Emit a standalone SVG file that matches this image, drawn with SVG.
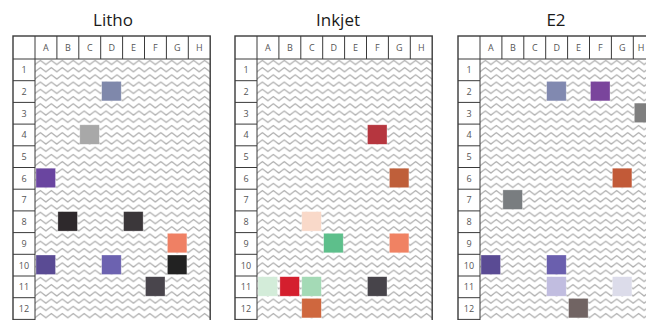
<svg xmlns="http://www.w3.org/2000/svg" width="646" height="320" viewBox="0 0 646 320">
<defs>
<pattern id="zz" patternUnits="userSpaceOnUse" x="0" y="59" width="10.95" height="7.233">
<path d="M-0.7,6.1 L5.475,1.3 L11.65,6.1" fill="none" stroke="#ababab" stroke-width="1.1"/>
</pattern>
<style>
.title{font-family:"Open Sans","Noto Sans",sans-serif;font-size:17px;fill:#1a1a1a;text-anchor:middle}
.hd{font-family:"Open Sans","Noto Sans",sans-serif;font-size:9px;fill:#555;text-anchor:middle}
.frame{fill:none;stroke:#3a3a3a;stroke-width:1.4}
.ln{stroke:#3a3a3a;stroke-width:1}
.hatch{fill:url(#zz)}
.sq{stroke:#ffffff;stroke-opacity:0.5;stroke-width:0.6}
</style>
</defs>
<rect width="646" height="320" fill="#ffffff"/>

<g id="title-litho"><text class="title" x="113" y="26">Litho</text></g>
<g id="title-inkjet"><text class="title" x="338" y="26">Inkjet</text></g>
<g id="title-e2"><text class="title" x="556" y="26">E2</text></g>

<!-- LITHO -->
<g id="plate-litho" transform="translate(13,0)">
<rect x="22" y="59" width="175.2" height="262" fill="#fff"/>
<rect class="hatch" x="22" y="59" width="175.2" height="262"/>
<g id="litho-frame">
<rect class="frame" x="0" y="36" width="197.2" height="290"/>
<line class="ln" x1="0" y1="59" x2="197.2" y2="59"/>
<line class="ln" x1="22" y1="36" x2="22" y2="326"/>
<path class="ln" d="M43.9,36V59M65.8,36V59M87.7,36V59M109.6,36V59M131.5,36V59M153.4,36V59M175.3,36V59"/>
<path class="ln" d="M0,80.7H22M0,102.4H22M0,124.1H22M0,145.8H22M0,167.5H22M0,189.2H22M0,210.9H22M0,232.6H22M0,254.3H22M0,276H22M0,297.7H22M0,319.4H22"/>
</g>
<g id="litho-labels">
<text class="hd" x="32.95" y="51">A</text><text class="hd" x="54.85" y="51">B</text><text class="hd" x="76.75" y="51">C</text><text class="hd" x="98.65" y="51">D</text><text class="hd" x="120.55" y="51">E</text><text class="hd" x="142.45" y="51">F</text><text class="hd" x="164.35" y="51">G</text><text class="hd" x="186.25" y="51">H</text>
<text class="hd" x="11" y="73.2">1</text><text class="hd" x="11" y="94.9">2</text><text class="hd" x="11" y="116.6">3</text><text class="hd" x="11" y="138.3">4</text><text class="hd" x="11" y="160">5</text><text class="hd" x="11" y="181.7">6</text><text class="hd" x="11" y="203.4">7</text><text class="hd" x="11" y="225.1">8</text><text class="hd" x="11" y="246.8">9</text><text class="hd" x="11" y="268.5">10</text><text class="hd" x="11" y="290.2">11</text><text class="hd" x="11" y="311.9">12</text>
</g>
<g id="litho-wells">
<rect class="sq" x="88.7" y="81.4" width="19.5" height="19.5" fill="#7f88ab"/>
<rect class="sq" x="66.8" y="124.8" width="19.5" height="19.5" fill="#a8a8a8"/>
<rect class="sq" x="23" y="168.2" width="19.5" height="19.5" fill="#6a45a0"/>
<rect class="sq" x="44.9" y="211.6" width="19.5" height="19.5" fill="#2e292c"/>
<rect class="sq" x="110.6" y="211.6" width="19.5" height="19.5" fill="#3b373a"/>
<rect class="sq" x="154.4" y="233.3" width="19.5" height="19.5" fill="#ef8064"/>
<rect class="sq" x="23" y="255" width="19.5" height="19.5" fill="#5a4b94"/>
<rect class="sq" x="88.7" y="255" width="19.5" height="19.5" fill="#6c62b0"/>
<rect class="sq" x="154.4" y="255" width="19.5" height="19.5" fill="#222222"/>
<rect class="sq" x="132.5" y="276.7" width="19.5" height="19.5" fill="#49454c"/>
</g>
</g>

<!-- INKJET -->
<g id="plate-inkjet" transform="translate(235,0)">
<rect x="22" y="59" width="175.2" height="262" fill="#fff"/>
<rect class="hatch" x="22" y="59" width="175.2" height="262"/>
<g id="inkjet-frame">
<rect class="frame" x="0" y="36" width="197.2" height="290"/>
<line class="ln" x1="0" y1="59" x2="197.2" y2="59"/>
<line class="ln" x1="22" y1="36" x2="22" y2="326"/>
<path class="ln" d="M43.9,36V59M65.8,36V59M87.7,36V59M109.6,36V59M131.5,36V59M153.4,36V59M175.3,36V59"/>
<path class="ln" d="M0,80.7H22M0,102.4H22M0,124.1H22M0,145.8H22M0,167.5H22M0,189.2H22M0,210.9H22M0,232.6H22M0,254.3H22M0,276H22M0,297.7H22M0,319.4H22"/>
</g>
<g id="inkjet-labels">
<text class="hd" x="32.95" y="51">A</text><text class="hd" x="54.85" y="51">B</text><text class="hd" x="76.75" y="51">C</text><text class="hd" x="98.65" y="51">D</text><text class="hd" x="120.55" y="51">E</text><text class="hd" x="142.45" y="51">F</text><text class="hd" x="164.35" y="51">G</text><text class="hd" x="186.25" y="51">H</text>
<text class="hd" x="11" y="73.2">1</text><text class="hd" x="11" y="94.9">2</text><text class="hd" x="11" y="116.6">3</text><text class="hd" x="11" y="138.3">4</text><text class="hd" x="11" y="160">5</text><text class="hd" x="11" y="181.7">6</text><text class="hd" x="11" y="203.4">7</text><text class="hd" x="11" y="225.1">8</text><text class="hd" x="11" y="246.8">9</text><text class="hd" x="11" y="268.5">10</text><text class="hd" x="11" y="290.2">11</text><text class="hd" x="11" y="311.9">12</text>
</g>
<g id="inkjet-wells">
<rect class="sq" x="132.5" y="124.8" width="19.5" height="19.5" fill="#b6363f"/>
<rect class="sq" x="154.4" y="168.2" width="19.5" height="19.5" fill="#bf5f3a"/>
<rect class="sq" x="66.8" y="211.6" width="19.5" height="19.5" fill="#f9d9c9"/>
<rect class="sq" x="88.7" y="233.3" width="19.5" height="19.5" fill="#5dbf8b"/>
<rect class="sq" x="154.4" y="233.3" width="19.5" height="19.5" fill="#f08263"/>
<rect class="sq" x="23" y="276.7" width="19.5" height="19.5" fill="#d3ecd9"/>
<rect class="sq" x="44.9" y="276.7" width="19.5" height="19.5" fill="#d41f2e"/>
<rect class="sq" x="66.8" y="276.7" width="19.5" height="19.5" fill="#a4dab6"/>
<rect class="sq" x="132.5" y="276.7" width="19.5" height="19.5" fill="#47444a"/>
<rect class="sq" x="66.8" y="298.4" width="19.5" height="19.5" fill="#cf673e"/>
</g>
</g>

<!-- E2 -->
<g id="plate-e2" transform="translate(458,0)">
<rect x="22" y="59" width="175.2" height="262" fill="#fff"/>
<rect class="hatch" x="22" y="59" width="175.2" height="262"/>
<g id="e2-frame">
<rect class="frame" x="0" y="36" width="197.2" height="290"/>
<line class="ln" x1="0" y1="59" x2="197.2" y2="59"/>
<line class="ln" x1="22" y1="36" x2="22" y2="326"/>
<path class="ln" d="M43.9,36V59M65.8,36V59M87.7,36V59M109.6,36V59M131.5,36V59M153.4,36V59M175.3,36V59"/>
<path class="ln" d="M0,80.7H22M0,102.4H22M0,124.1H22M0,145.8H22M0,167.5H22M0,189.2H22M0,210.9H22M0,232.6H22M0,254.3H22M0,276H22M0,297.7H22M0,319.4H22"/>
</g>
<g id="e2-labels">
<text class="hd" x="32.95" y="51">A</text><text class="hd" x="54.85" y="51">B</text><text class="hd" x="76.75" y="51">C</text><text class="hd" x="98.65" y="51">D</text><text class="hd" x="120.55" y="51">E</text><text class="hd" x="142.45" y="51">F</text><text class="hd" x="164.35" y="51">G</text><text class="hd" x="183" y="51">H</text>
<text class="hd" x="11" y="73.2">1</text><text class="hd" x="11" y="94.9">2</text><text class="hd" x="11" y="116.6">3</text><text class="hd" x="11" y="138.3">4</text><text class="hd" x="11" y="160">5</text><text class="hd" x="11" y="181.7">6</text><text class="hd" x="11" y="203.4">7</text><text class="hd" x="11" y="225.1">8</text><text class="hd" x="11" y="246.8">9</text><text class="hd" x="11" y="268.5">10</text><text class="hd" x="11" y="290.2">11</text><text class="hd" x="11" y="311.9">12</text>
</g>
<g id="e2-wells">
<rect class="sq" x="88.7" y="81.4" width="19.5" height="19.5" fill="#8189b0"/>
<rect class="sq" x="132.5" y="81.4" width="19.5" height="19.5" fill="#7a459c"/>
<rect class="sq" x="176.3" y="103.1" width="19.5" height="19.5" fill="#7f7f7f"/>
<rect class="sq" x="154.4" y="168.2" width="19.5" height="19.5" fill="#c25a38"/>
<rect class="sq" x="44.9" y="189.9" width="19.5" height="19.5" fill="#797d80"/>
<rect class="sq" x="23" y="255" width="19.5" height="19.5" fill="#5a4b94"/>
<rect class="sq" x="88.7" y="255" width="19.5" height="19.5" fill="#6a5fae"/>
<rect class="sq" x="88.7" y="276.7" width="19.5" height="19.5" fill="#c1bde0"/>
<rect class="sq" x="154.4" y="276.7" width="19.5" height="19.5" fill="#dcdcea"/>
<rect class="sq" x="110.6" y="298.4" width="19.5" height="19.5" fill="#716463"/>
</g>
</g>
</svg>
